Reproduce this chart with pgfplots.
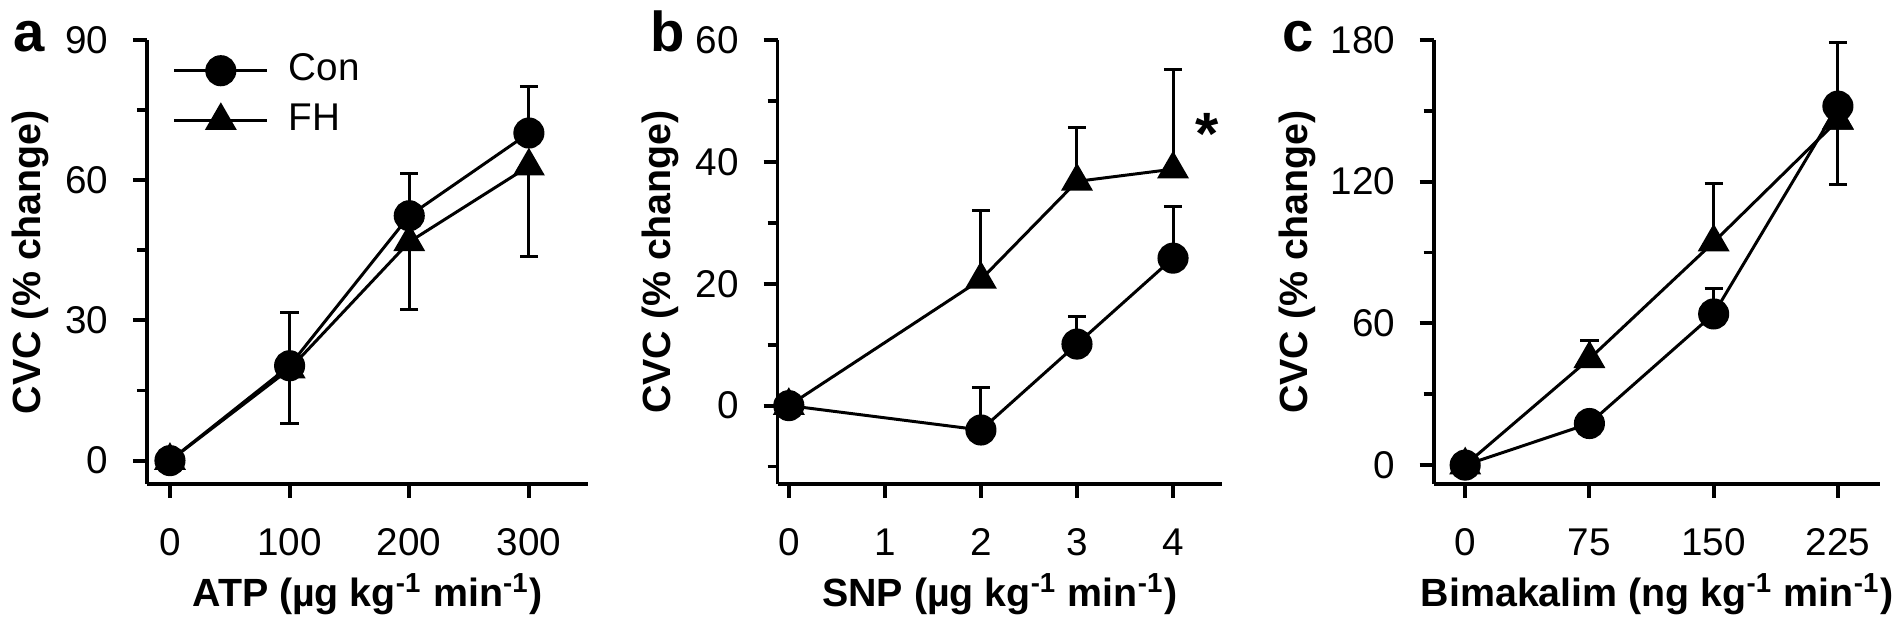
\documentclass[border=0pt]{standalone}
\usepackage{pgfplots}
\pgfplotsset{compat=1.18}
\usepackage{fontspec}
\setmainfont{Liberation Sans}

\newcommand{\fs}{\fontsize{11}{13}\selectfont}
\newcommand{\lfs}{\fontsize{11.2}{13}\selectfont}

\pgfplotsset{
  panel/.style={
    scale only axis,
    height=4.44cm,
    anchor=south west,
    clip=false,
    axis x line*=bottom, axis y line*=left,
    axis line style={line width=1.1pt, -, black},
    tick align=outside,
    major tick length=0.14cm,
    minor tick length=0.1cm,
    every tick/.style={line width=1.1pt, black},
    tick label style={font=\fs, black},
    /pgf/number format/assume math mode=true,
    yticklabel style={anchor=east, inner sep=0pt, xshift=-0.24cm},
    xticklabel style={anchor=base, inner sep=0pt, yshift=-0.58cm},
    every axis y label/.style={rotate=90, anchor=center, font=\bfseries\lfs},
    every axis x label/.style={anchor=base, font=\bfseries\lfs, at={(axis description cs:0.5,-0.275)}},
    every axis plot/.append style={line width=0.85pt, black},
    error bars/error bar style={line width=0.85pt, black},
    error bars/error mark options={rotate=90, line width=0.85pt, black, mark size=2.6pt},
    legend image code/.code={\draw[mark repeat=2,mark phase=2,#1] plot coordinates {(0cm,0cm) (0.465cm,0cm) (0.93cm,0cm)}; \path (1.13cm,0cm);},
  },
  con/.style={mark=*, mark size=4pt, mark options={fill=black, draw=black, solid}},
  fh/.style={mark=triangle*, mark size=4.4pt, mark options={fill=black, draw=black, solid}},
}

\begin{document}
\begin{tikzpicture}
\useasboundingbox (0,0) rectangle (19.02,6.33);

% Panel a
\begin{axis}[panel, at={(1.47cm,1.49cm)}, width=4.41cm,
  xmin=-19.2, xmax=349.4, ymin=-5, ymax=90,
  xtick={0,100,200,300}, ytick={0,30,60,90}, minor ytick={15,45,75},
  xlabel={ATP (µg kg\textsuperscript{-1} min\textsuperscript{-1})},
  ylabel={CVC (\% change)},
  every axis y label/.append style={at={(axis description cs:-0.265,0.5)}},
  legend style={at={(axis description cs:0.057,0.9775)}, anchor=north west, draw=none, fill=none,
    inner sep=0pt, font=\fs, row sep=0.1cm, legend cell align=left,
    nodes={inner sep=0pt, text height=0.3cm, text depth=0.1cm}},
]
\addplot[con, error bars/.cd, y dir=plus, y explicit] table[x=x, y=y, y error=e] {
x y e
0 0 0
100 20.3 11.5
200 52.4 9.1
300 70.1 10.0
};
\addlegendentry{Con}
\addplot[fh, error bars/.cd, y dir=minus, y explicit] table[x=x, y=y, y error=e] {
x y e
0 0 0
100 19.6 11.6
200 46.8 14.4
300 63.0 19.4
};
\addlegendentry{FH}
\end{axis}

% Panel b
\begin{axis}[panel, at={(7.775cm,1.49cm)}, width=4.445cm,
  xmin=-0.118, xmax=4.51, ymin=-12.86, ymax=60,
  xtick={0,1,2,3,4}, ytick={0,20,40,60}, minor ytick={-10,10,30,50},
  xlabel={SNP (µg kg\textsuperscript{-1} min\textsuperscript{-1})},
  ylabel={CVC (\% change)},
  every axis y label/.append style={at={(axis description cs:-0.264,0.5)}},
]
\addplot[fh, error bars/.cd, y dir=plus, y explicit] table[x=x, y=y, y error=e] {
x y e
0 0 0
2 20.7 11.3
3 36.8 8.8
4 38.8 16.4
};
\addplot[con, error bars/.cd, y dir=plus, y explicit] table[x=x, y=y, y error=e] {
x y e
0 0 0
2 -4.0 7.0
3 10.1 4.6
4 24.2 8.4
};
\node[anchor=north, inner sep=0pt, font=\bfseries\fontsize{17}{20}\selectfont] at (axis cs:4.35,48.0) {*};
\end{axis}

% Panel c
\begin{axis}[panel, at={(14.337cm,1.49cm)}, width=4.466cm,
  xmin=-19, xmax=250.6, ymin=-8, ymax=180,
  xtick={0,75,150,225}, ytick={0,60,120,180}, minor ytick={30,90,150},
  xlabel={Bimakalim (ng kg\textsuperscript{-1} min\textsuperscript{-1})},
  ylabel={CVC (\% change)},
  every axis y label/.append style={at={(axis description cs:-0.306,0.5)}},
]
\addplot[fh, error bars/.cd, y dir=plus, y explicit] table[x=x, y=y, y error=e] {
x y e
0 0 0
75 45 7.6
150 94.4 24.7
225 146 0
};
\addplot[fh, forget plot, only marks, error bars/.cd, y dir=minus, y explicit] table[x=x, y=y, y error=e] {
x y e
225 146 27.2
};
\addplot[con, error bars/.cd, y dir=plus, y explicit] table[x=x, y=y, y error=e] {
x y e
0 0 0
75 17.6 0
150 64.0 10.7
225 152 26.8
};
\end{axis}

\node[anchor=base west, inner sep=0pt, font=\bfseries\fontsize{16}{19}\selectfont] at (0.13,5.815) {a};
\node[anchor=base west, inner sep=0pt, font=\bfseries\fontsize{16}{19}\selectfont] at (6.50,5.815) {b};
\node[anchor=base west, inner sep=0pt, font=\bfseries\fontsize{16}{19}\selectfont] at (12.82,5.815) {c};
\end{tikzpicture}
\end{document}
